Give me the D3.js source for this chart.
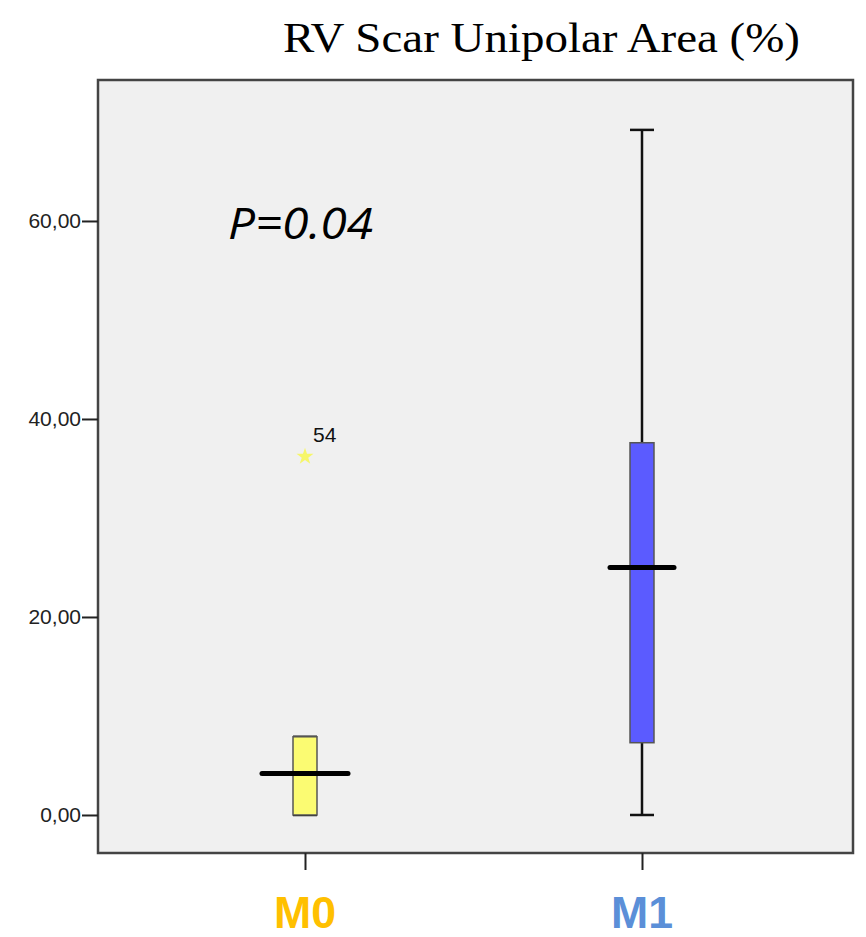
<!DOCTYPE html>
<html>
<head>
<meta charset="utf-8">
<script src="https://cdn.jsdelivr.net/npm/d3@7/dist/d3.min.js"></script>
<style>
  body { margin: 0; background: #fff; }
</style>
</head>
<body>
<script>
// groups and their box statistics
var groups = ["M0", "M1"];
var q1 = [0, 7.3];
var medians = [4.2, 25.0];
var q3 = [7.9, 37.6];
var whiskerLow = [0, 0];
var whiskerHigh = [7.9, 69.2];
var outlierValues = [36.2];
var outlierGroups = ["M0"];
var outlierLabels = ["54"];
var yTicks = [0, 20, 40, 60];

var boxFill = ["#fbfb72", "#5b5bff"];
var labelColor = ["#ffc000", "#5b8fd8"];

var width = 866, height = 937;
var margin = {top: 80, right: 13, bottom: 84, left: 98};

var svg = d3.select("body").append("svg")
	.attr("width", width)
	.attr("height", height);

var x = d3.scalePoint()
	.domain(groups)
	.range([305, 642]);

var y = d3.scaleLinear()
	.domain([-3.84, 74.24])
	.range([height - margin.bottom, margin.top]);

// plot background
svg.append("rect")
	.attr("x", margin.left)
	.attr("y", margin.top)
	.attr("width", width - margin.left - margin.right)
	.attr("height", height - margin.top - margin.bottom)
	.attr("fill", "#f0f0f0")
	.attr("stroke", "#444")
	.attr("stroke-width", 2.5);

// y axis
var yAxis = svg.append("g")
	.attr("transform", "translate(" + margin.left + ",0)")
	.call(d3.axisLeft(y).tickValues(yTicks).tickSize(16).tickPadding(1)
		.tickFormat(function(d) { return d3.format(".2f")(d).replace(".", ","); }));
yAxis.select(".domain").remove();
yAxis.selectAll("line").attr("stroke", "#222").attr("stroke-width", 2);
yAxis.selectAll("text")
	.attr("font-family", "Liberation Sans, Arial, sans-serif")
	.attr("font-size", 21)
	.attr("fill", "#222");

// x axis
var xAxis = svg.append("g")
	.attr("transform", "translate(0," + (height - margin.bottom) + ")")
	.call(d3.axisBottom(x).tickSize(17).tickFormat(""));
xAxis.select(".domain").remove();
xAxis.selectAll("line").attr("stroke", "#222").attr("stroke-width", 2);

// group labels
svg.selectAll(".glabel")
	.data(groups)
	.enter().append("text")
	.attr("class", "glabel")
	.attr("x", function(d) { return x(d); })
	.attr("y", 928)
	.attr("text-anchor", "middle")
	.attr("font-family", "Liberation Sans, Arial, sans-serif")
	.attr("font-weight", "bold")
	.attr("font-size", 44)
	.attr("textLength", 62)
	.attr("lengthAdjust", "spacingAndGlyphs")
	.attr("fill", function(d, i) { return labelColor[i]; })
	.text(function(d) { return d; });

var boxW = 24, capW = 24;
var medW = [86, 64];

groups.forEach(function(g, i) {
	var cx = x(g);
	// whiskers
	svg.append("line")
		.attr("x1", cx).attr("x2", cx)
		.attr("y1", y(whiskerLow[i])).attr("y2", y(whiskerHigh[i]))
		.attr("stroke", "#111").attr("stroke-width", 2.5);
	[whiskerLow[i], whiskerHigh[i]].forEach(function(v) {
		svg.append("line")
			.attr("x1", cx - capW / 2).attr("x2", cx + capW / 2)
			.attr("y1", y(v)).attr("y2", y(v))
			.attr("stroke", "#111").attr("stroke-width", 2.5);
	});
	// box
	svg.append("rect")
		.attr("x", cx - boxW / 2)
		.attr("y", y(q3[i]))
		.attr("width", boxW)
		.attr("height", y(q1[i]) - y(q3[i]))
		.attr("fill", boxFill[i])
		.attr("stroke", "#555")
		.attr("stroke-width", 1.5);
	// median
	svg.append("line")
		.attr("x1", cx - medW[i] / 2).attr("x2", cx + medW[i] / 2)
		.attr("y1", y(medians[i])).attr("y2", y(medians[i]))
		.attr("stroke", "#000").attr("stroke-width", 5)
		.attr("stroke-linecap", "round");
});

// outliers (extreme, star symbol)
outlierValues.forEach(function(v, i) {
	var cx = x(outlierGroups[i]);
	svg.append("path")
		.attr("d", d3.symbol().type(d3.symbolStar).size(90)())
		.attr("transform", "translate(" + cx + "," + y(v) + ")")
		.attr("fill", "#f6f66a");
	svg.append("text")
		.attr("x", cx + 8)
		.attr("y", y(v) - 15)
		.attr("font-family", "Liberation Sans, Arial, sans-serif")
		.attr("font-size", 21)
		.attr("fill", "#111")
		.text(outlierLabels[i]);
});

// p value
svg.append("text")
	.attr("x", 228)
	.attr("y", 239)
	.attr("font-family", "Open Sans, sans-serif")
	.attr("font-style", "italic")
	.attr("font-size", 44)
	.attr("textLength", 145)
	.attr("lengthAdjust", "spacingAndGlyphs")
	.attr("fill", "#000")
	.text("P=0.04");

// title
svg.append("text")
	.attr("x", 283)
	.attr("y", 52)
	.attr("font-family", "Liberation Serif, serif")
	.attr("font-size", 42)
	.attr("textLength", 517)
	.attr("lengthAdjust", "spacingAndGlyphs")
	.attr("fill", "#000")
	.text("RV Scar Unipolar Area (%)");
</script>
</body>
</html>
